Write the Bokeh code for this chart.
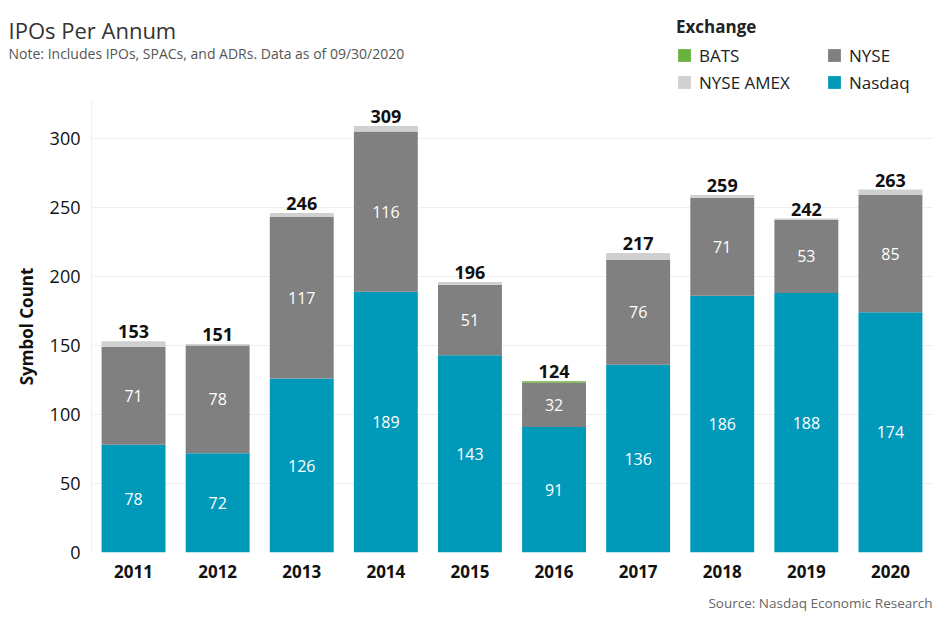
from bokeh.plotting import figure
from bokeh.layouts import column
from bokeh.models import (ColumnDataSource, FactorRange, Range1d, FixedTicker,
                          Label, LabelSet, Legend, LegendItem, Title)
from bokeh.core.properties import value
from bokeh.embed import file_html
from bokeh.resources import INLINE

years = ["2011", "2012", "2013", "2014", "2015", "2016", "2017", "2018", "2019", "2020"]
nasdaq = [78, 72, 126, 189, 143, 91, 136, 186, 188, 174]
nyse = [71, 78, 117, 116, 51, 32, 76, 71, 53, 85]
nyse_amex = [4, 1, 3, 4, 2, 0, 5, 2, 1, 4]
bats = [0, 0, 0, 0, 0, 1, 0, 0, 0, 0]
totals = [153, 151, 246, 309, 196, 124, 217, 259, 242, 263]
y_ticks = [0, 50, 100, 150, 200, 250, 300]

FONT = "Open Sans"
C_NASDAQ = "#0099b9"
C_NYSE = "#808080"
C_AMEX = "#d0d0d0"
C_BATS = "#6ab23e"
HEADER_H = 100
W = 936

# ---------------- header (title, note, legend) ----------------
hdr = figure(width=W, height=HEADER_H, x_range=Range1d(0, W), y_range=Range1d(0, HEADER_H),
             x_axis_type=None, y_axis_type=None, output_backend="svg", toolbar_location=None,
             min_border=0, min_border_left=0, min_border_right=0,
             min_border_top=0, min_border_bottom=0)
hdr.frame_align = False
hdr.outline_line_color = None
hdr.grid.grid_line_color = None

hdr.add_layout(Label(x=8, y=HEADER_H - 29, text="IPOs Per Annum",
                     text_font=FONT, text_font_size="22px", text_color="#333333",
                     text_baseline="middle", text_align="left"))
hdr.add_layout(Label(x=8, y=HEADER_H - 53,
                     text="Note: Includes IPOs, SPACs, and ADRs. Data as of 09/30/2020",
                     text_font=FONT, text_font_size="14px", text_color="#555555",
                     text_baseline="middle", text_align="left"))

# legend-only renderers (no visible data)
nan_src = dict(x=[float("nan")], top=[float("nan")])
lg_bats = hdr.vbar(x="x", top="top", width=1, fill_color=C_BATS, line_color=None, source=ColumnDataSource(nan_src))
lg_amex = hdr.vbar(x="x", top="top", width=1, fill_color=C_AMEX, line_color=None, source=ColumnDataSource(nan_src))
lg_nyse = hdr.vbar(x="x", top="top", width=1, fill_color=C_NYSE, line_color=None, source=ColumnDataSource(nan_src))
lg_nasdaq = hdr.vbar(x="x", top="top", width=1, fill_color=C_NASDAQ, line_color=None, source=ColumnDataSource(nan_src))

legend = Legend(items=[
    LegendItem(label="BATS", renderers=[lg_bats]),
    LegendItem(label="NYSE AMEX", renderers=[lg_amex]),
    LegendItem(label="NYSE", renderers=[lg_nyse]),
    LegendItem(label="Nasdaq", renderers=[lg_nasdaq]),
], ncols=2, location=(676, HEADER_H - 93.5), title="Exchange",
    title_text_font=FONT, title_text_font_size="17px", title_text_font_style="bold",
    title_text_color="#222222", title_standoff=6,
    label_text_font=FONT, label_text_font_size="17px", label_text_color="#222222",
    glyph_width=16, glyph_height=16, label_standoff=7, label_height=20, label_width=123,
    spacing=4, padding=0, margin=0, border_line_color=None, background_fill_alpha=0)
hdr.add_layout(legend)

# ---------------- main chart ----------------
src = ColumnDataSource(dict(
    year=years, Nasdaq=nasdaq, NYSE=nyse, AMEX=nyse_amex, BATS=bats,
    total=totals, total_lbl=[str(t) for t in totals],
    nasdaq_mid=[v / 2 for v in nasdaq],
    nyse_mid=[a + b / 2 for a, b in zip(nasdaq, nyse)],
    nasdaq_lbl=[str(v) for v in nasdaq],
    nyse_lbl=[str(v) for v in nyse],
))

MAIN_H = 626 - HEADER_H
p = figure(x_range=FactorRange(*years), y_range=Range1d(0, 327.5),
           width=W, height=MAIN_H, output_backend="svg", toolbar_location=None,
           min_border_left=91, min_border_right=4, min_border_top=0, min_border_bottom=74)
p.frame_align = False
p.outline_line_color = None

p.vbar_stack(["Nasdaq", "NYSE", "AMEX", "BATS"], x="year", width=0.76,
             fill_color=[C_NASDAQ, C_NYSE, C_AMEX, C_BATS],
             line_color=None, source=src)

p.yaxis.ticker = FixedTicker(ticks=y_ticks)
p.yaxis.axis_label = "Symbol Count"
p.yaxis.axis_label_text_font = FONT
p.yaxis.axis_label_text_font_size = "17px"
p.yaxis.axis_label_text_font_style = "bold"
p.yaxis.axis_label_text_color = "#111111"
p.yaxis.axis_label_standoff = 9
p.yaxis.major_label_text_font = FONT
p.yaxis.major_label_text_font_size = "18px"
p.yaxis.major_label_text_color = "#111111"
p.yaxis.major_label_standoff = 5
p.yaxis.major_tick_line_color = None
p.yaxis.minor_tick_line_color = None
p.yaxis.axis_line_color = "#f0f0f0"

p.xaxis.major_label_text_font = FONT
p.xaxis.major_label_text_font_size = "17px"
p.xaxis.major_label_text_font_style = "bold"
p.xaxis.major_label_text_color = "#111111"
p.xaxis.major_label_standoff = 6
p.xaxis.major_tick_line_color = None
p.xaxis.axis_line_color = None

p.xgrid.grid_line_color = None
p.ygrid.grid_line_color = "#efefef"

p.add_layout(LabelSet(x="year", y="nasdaq_mid", text="nasdaq_lbl", source=src,
                      text_align="center", text_baseline="middle", text_color="white",
                      text_font=value(FONT), text_font_size="16px"))
p.add_layout(LabelSet(x="year", y="nyse_mid", text="nyse_lbl", source=src,
                      text_align="center", text_baseline="middle", text_color="white",
                      text_font=value(FONT), text_font_size="16px"))
p.add_layout(LabelSet(x="year", y="total", text="total_lbl", source=src, y_offset=3,
                      text_align="center", text_baseline="bottom", text_color="#111111",
                      text_font=value(FONT), text_font_size="18px", text_font_style="bold"))

p.add_layout(Title(text="Source: Nasdaq Economic Research", align="right",
                   text_font=FONT, text_font_size="13.5px", text_font_style="normal",
                   text_color="#666666", standoff=23), "below")

open("out.html", "w").write(file_html(column(hdr, p, spacing=0), INLINE))
